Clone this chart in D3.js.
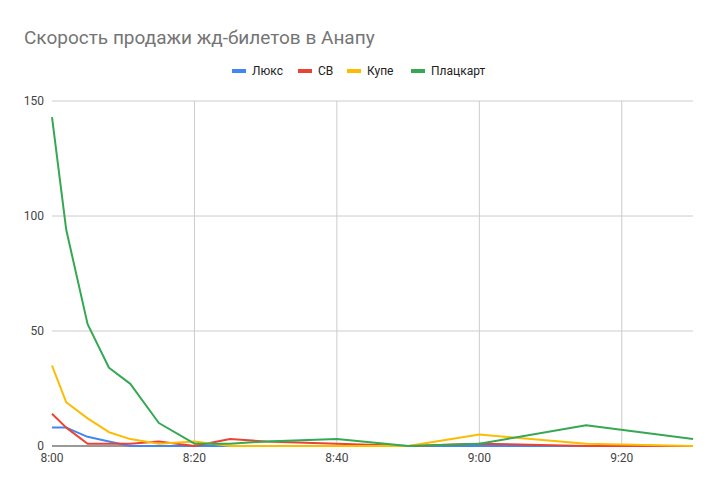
<!DOCTYPE html><html><head><meta charset="utf-8"><script src="https://cdn.jsdelivr.net/npm/d3@7"></script>
<style>body{margin:0;background:#fff;font-family:Roboto,Arial,sans-serif}</style></head><body><svg id="c" width="718" height="491"></svg><script>
const minutes=[0,2,5,8,11,15,20,25,30,40,50,60,75,90];
const seriesNames=["Люкс","СВ","Купе","Плацкарт"];
const colors=["#4285f4","#ea4335","#fbbc04","#34a853"];
const lux=[8,8,4,2,0,0,0,0,0,0,0,0,0,0];
const sv=[14,8,1,1,1,2,0,3,2,1,0,1,0,0];
const kupe=[35,19,12,6,3,1,2,0,0,0,0,5,1,0];
const plats=[143,94,53,34,27,10,1,1,2,3,0,1,9,3];
const yTicks=[0,50,100,150];
const xTicks=[0,20,40,60,80];
const xLabels=["8:00","8:20","8:40","9:00","9:20"];
const data=[lux,sv,kupe,plats];
const svg=d3.select("#c");
const x=d3.scaleLinear().domain([0,90]).range([52,693]);
const y=d3.scaleLinear().domain([0,150]).range([446,101]);
svg.append("text").attr("x",24).attr("y",44).attr("font-size",19).attr("fill","#757575").text("Скорость продажи жд-билетов в Анапу");
yTicks.forEach(t=>{svg.append("line").attr("x1",52).attr("x2",693).attr("y1",y(t)).attr("y2",y(t)).attr("stroke",t?"#ccc":"#333");
svg.append("text").attr("x",44).attr("y",y(t)+4).attr("text-anchor","end").attr("font-size",12).attr("fill","#444").text(t);});
xTicks.forEach((t,i)=>{if(t>0)svg.append("line").attr("x1",x(t)).attr("x2",x(t)).attr("y1",101).attr("y2",446).attr("stroke","#ccc");
svg.append("text").attr("x",x(t)).attr("y",462).attr("text-anchor","middle").attr("font-size",12).attr("fill","#444").text(xLabels[i]);});
const line=d3.line().x((d,i)=>x(minutes[i])).y(d=>y(d));
data.forEach((s,k)=>svg.append("path").datum(s).attr("d",line).attr("fill","none").attr("stroke",colors[k]).attr("stroke-width",2).attr("stroke-linejoin","round"));
const lx=[232,298,347,411];
seriesNames.forEach((n,k)=>{svg.append("rect").attr("x",lx[k]).attr("y",69).attr("width",14).attr("height",4).attr("fill",colors[k]);
svg.append("text").attr("x",lx[k]+20).attr("y",75).attr("font-size",12).attr("fill","#222").text(n);});
</script></body></html>
